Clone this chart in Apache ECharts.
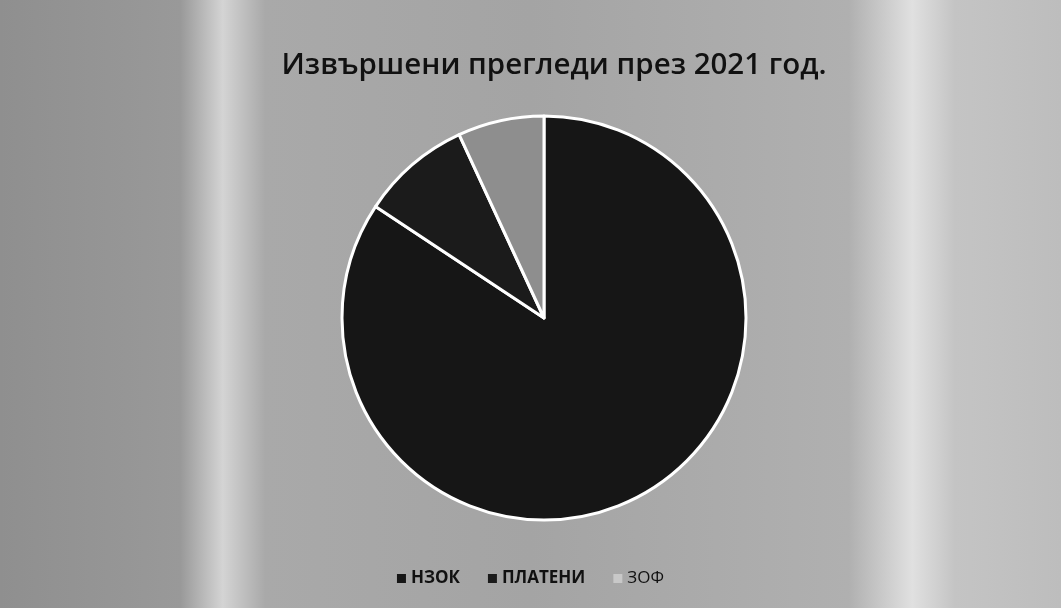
<!DOCTYPE html>
<html><head><meta charset="utf-8">
<script src="https://cdn.jsdelivr.net/npm/echarts@6/dist/echarts.min.js"></script>
<style>html,body{margin:0;padding:0;}#c{width:1061px;height:608px;}</style>
</head><body><div id="c"></div>
<script>
const categories = ['НЗОК', 'ПЛАТЕНИ', 'ЗОФ'];
const values = [84.3, 8.8, 6.9];
const colors = ['#161616', '#1b1b1b', '#8e8e8e'];
const titleText = 'Извършени прегледи през 2021 год.';

const chart = echarts.init(document.getElementById('c'));
chart.setOption({
  animation: false,
  backgroundColor: {
    type: 'linear', x: 0, y: 0, x2: 1, y2: 0,
    colorStops: [
      {offset: 0, color: '#8f8f8f'},
      {offset: 0.17, color: '#999999'},
      {offset: 0.21, color: '#d4d4d4'},
      {offset: 0.25, color: '#a9a9a9'},
      {offset: 0.5, color: '#a4a4a4'},
      {offset: 0.8, color: '#b0b0b0'},
      {offset: 0.86, color: '#e0e0e0'},
      {offset: 0.9, color: '#c4c4c4'},
      {offset: 1, color: '#bdbdbd'}
    ]
  },
  title: {
    text: titleText, left: 549, top: 46, textAlign: 'center',
    textStyle: {fontFamily: 'Open Sans', fontSize: 29.5, fontWeight: 600, color: '#111'}
  },
  legend: {
    bottom: 16, left: 'center', itemWidth: 9, itemHeight: 9, itemGap: 28,
    icon: 'rect',
    itemStyle: {borderWidth: 0},
    textStyle: {fontFamily: 'Open Sans', fontSize: 17, fontWeight: 'bold', color: '#111'},
    data: [
      {name: categories[0]},
      {name: categories[1]},
      {name: categories[2], itemStyle: {color: '#c8c8c8'}, textStyle: {fontWeight: 'normal', color: '#111'}}
    ]
  },
  series: [{
    type: 'pie', center: [544, 318], radius: 202, startAngle: 90,
    label: {show: false}, labelLine: {show: false},
    itemStyle: {borderColor: '#ffffff', borderWidth: 3},
    data: categories.map((c, i) => ({name: c, value: values[i], itemStyle: {color: colors[i]}}))
  }]
});
</script></body></html>
